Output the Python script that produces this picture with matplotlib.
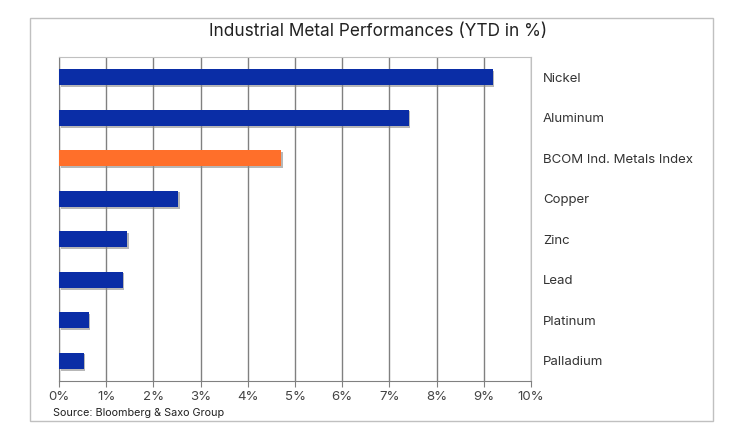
import matplotlib
matplotlib.use("Agg")
import matplotlib.pyplot as plt
import matplotlib.patheffects as pe
from matplotlib.patches import Rectangle

metals = ["Nickel", "Aluminum", "BCOM Ind. Metals Index", "Copper",
          "Zinc", "Lead", "Platinum", "Palladium"]
ytd = [9.19, 7.41, 4.71, 2.53, 1.45, 1.35, 0.63, 0.52]
highlight = "BCOM Ind. Metals Index"
xticks = [0, 1, 2, 3, 4, 5, 6, 7, 8, 9, 10]

plt.rcParams['font.family'] = ['Inter', 'DejaVu Sans']

fig = plt.figure(figsize=(7.38, 4.38), dpi=100)
fig.patches.append(Rectangle((30 / 738, 17 / 438), 683 / 738, 403 / 438,
                             transform=fig.transFigure, fill=False,
                             edgecolor="#c0c0c0", linewidth=1.0))

ax = fig.add_axes([59 / 738, 57 / 438, 472 / 738, 324 / 438])

ypos = list(range(len(metals)))
colors = ["#ff6f2a" if m == highlight else "#0a2da6" for m in metals]
bars = ax.barh(ypos, ytd, height=0.4, color=colors, zorder=3)
for b in bars:
    b.set_path_effects([pe.SimplePatchShadow(offset=(1.2, -1.2), shadow_rgbFace="#888888", alpha=0.6),
                        pe.Normal()])

ax.set_xlim(0, 10)
ax.set_ylim(len(metals) - 0.5, -0.5)
ax.set_xticks(xticks)
ax.set_xticklabels([f"{t}%" for t in xticks])
ax.grid(axis="x", color="#808080", linewidth=1.0, zorder=1)

ax.yaxis.tick_right()
ax.set_yticks(ypos)
ax.set_yticklabels(metals)
ax.tick_params(axis="y", length=0, pad=8.5, labelsize=9.5, labelcolor="#333333")
ax.tick_params(axis="x", length=4, color="#808080", labelsize=9.5, labelcolor="#444444", pad=3)

for side in ["top", "right"]:
    ax.spines[side].set_color("#c0c0c0")
for side in ["left", "bottom"]:
    ax.spines[side].set_color("#808080")

fig.text(378 / 738, 1 - 31 / 438, "Industrial Metal Performances (YTD in %)",
         ha="center", va="center", fontsize=12.4, color="#222222")
fig.text(53 / 738, 1 - 413 / 438, "Source: Bloomberg & Saxo Group",
         ha="left", va="center", fontsize=7.8, color="#222222")

fig.savefig("out.png", dpi=100)
